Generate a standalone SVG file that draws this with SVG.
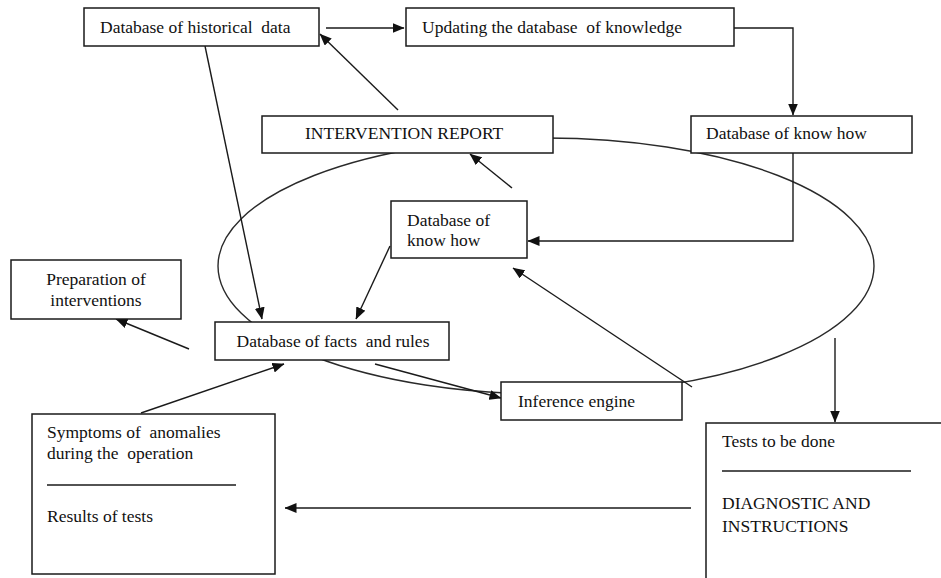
<svg xmlns="http://www.w3.org/2000/svg" width="941" height="578" viewBox="0 0 941 578">
<style>
  .box { fill: #ffffff; stroke: #1a1a1a; stroke-width: 1.5; }
  .t { font-family: 'Liberation Serif', 'DejaVu Serif', 'Times New Roman', serif; font-size: 17.5px; fill: #111; white-space: pre; }
  .c { fill: none; stroke: #1a1a1a; stroke-width: 1.4; }
  .cyc { fill: none; stroke: #2a2a2a; stroke-width: 1.4; }
  .rule { stroke: #1a1a1a; stroke-width: 1.4; }
</style>
<defs>
  <marker id="ah" markerWidth="12" markerHeight="10" refX="11.5" refY="5" orient="auto" markerUnits="userSpaceOnUse">
    <path d="M0,0 L12,5 L0,10 z" fill="#111"/>
  </marker>
</defs>
<rect width="941" height="578" fill="#ffffff"/>

<g id="cycle">
  <ellipse class="cyc" cx="546" cy="266" rx="328" ry="128"/>
</g>

<g id="connectors">
  <path class="c" d="M326,28 L404,28" marker-end="url(#ah)"/>
  <path class="c" d="M734,28 H793 V115" marker-end="url(#ah)"/>
  <path class="c" d="M793,153 V241 H528" marker-end="url(#ah)"/>
  <path class="c" d="M398,110 L320,34" marker-end="url(#ah)"/>
  <path class="c" d="M512,188 L470,154" marker-end="url(#ah)"/>
  <path class="c" d="M205,46 L262,319" marker-end="url(#ah)"/>
  <path class="c" d="M390,246 L356,319" marker-end="url(#ah)"/>
  <path class="c" d="M189,349 L116,319" marker-end="url(#ah)"/>
  <path class="c" d="M141,413 L284,364" marker-end="url(#ah)"/>
  <path class="c" d="M375,364 L501,398" marker-end="url(#ah)"/>
  <path class="c" d="M692,387 L513,268" marker-end="url(#ah)"/>
  <path class="c" d="M835,338 V422" marker-end="url(#ah)"/>
  <path class="c" d="M691,508 H285" marker-end="url(#ah)"/>
</g>

<g id="historical">
  <rect class="box" x="84" y="8" width="235" height="38"/>
  <text class="t" x="100" y="33">Database of historical  data</text>
</g>
<g id="updating">
  <rect class="box" x="406" y="8" width="328" height="38"/>
  <text class="t" x="422" y="33">Updating the database  of knowledge</text>
</g>
<g id="knowhow-right">
  <rect class="box" x="691" y="116" width="221" height="37"/>
  <text class="t" x="706" y="139">Database of know how</text>
</g>
<g id="intervention-report">
  <rect class="box" x="262" y="116" width="291" height="37"/>
  <text class="t" x="305" y="139">INTERVENTION REPORT</text>
</g>
<g id="knowhow-middle">
  <rect class="box" x="391" y="201" width="136" height="57"/>
  <text class="t" x="407" y="226">Database of</text>
  <text class="t" x="407" y="246">know how</text>
</g>
<g id="preparation">
  <rect class="box" x="11" y="260" width="170" height="59"/>
  <text class="t" x="96" y="285" text-anchor="middle">Preparation of</text>
  <text class="t" x="96" y="306" text-anchor="middle">interventions</text>
</g>
<g id="facts-rules">
  <rect class="box" x="215" y="322" width="234" height="38"/>
  <text class="t" x="333" y="347" text-anchor="middle">Database of facts  and rules</text>
</g>
<g id="inference">
  <rect class="box" x="501" y="382" width="181" height="38"/>
  <text class="t" x="518" y="407">Inference engine</text>
</g>
<g id="symptoms">
  <rect class="box" x="32" y="414" width="243" height="160"/>
  <text class="t" x="47" y="438">Symptoms of  anomalies</text>
  <text class="t" x="47" y="459">during the  operation</text>
  <line class="rule" x1="47" y1="485" x2="236" y2="485"/>
  <text class="t" x="47" y="522">Results of tests</text>
</g>
<g id="tests">
  <rect class="box" x="706" y="423" width="260" height="200"/>
  <text class="t" x="722" y="447">Tests to be done</text>
  <line class="rule" x1="722" y1="471" x2="911" y2="471"/>
  <text class="t" x="722" y="509">DIAGNOSTIC AND</text>
  <text class="t" x="722" y="532">INSTRUCTIONS</text>
</g>
</svg>
